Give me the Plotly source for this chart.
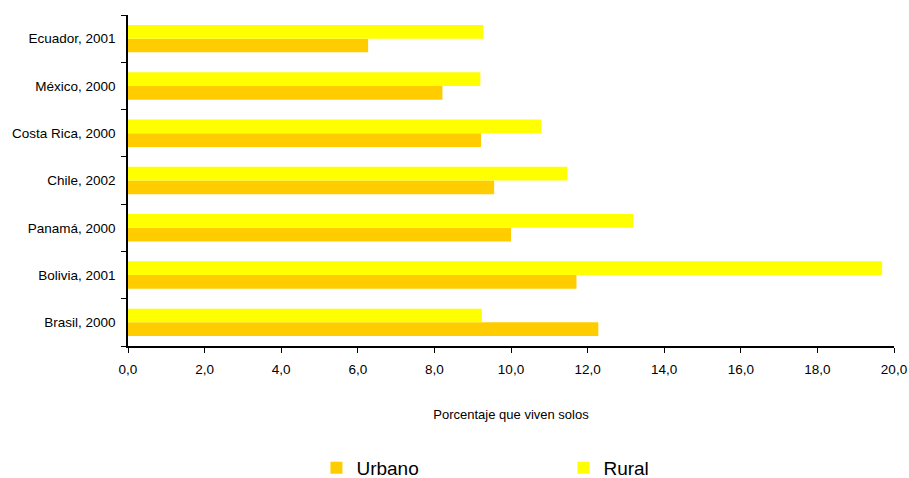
import plotly.graph_objects as go

categories = ["Brasil, 2000", "Bolivia, 2001", "Panamá, 2000", "Chile, 2002",
              "Costa Rica, 2000", "México, 2000", "Ecuador, 2001"]
urbano = [12.28, 11.71, 10.0, 9.56, 9.22, 8.21, 6.27]
rural = [9.24, 19.69, 13.19, 11.47, 10.79, 9.20, 9.28]
x_ticks = [0, 2, 4, 6, 8, 10, 12, 14, 16, 18, 20]

fig = go.Figure()
fig.add_trace(go.Bar(y=categories, x=urbano, name="Urbano", orientation="h",
                     marker=dict(color="#FFCC00", line=dict(width=0))))
fig.add_trace(go.Bar(y=categories, x=rural, name="Rural", orientation="h",
                     marker=dict(color="#FFFF00", line=dict(width=0))))

fig.update_layout(
    width=909, height=478,
    margin=dict(l=128, r=15, t=15, b=132),
    barmode="group", bargap=0.42, bargroupgap=0,
    plot_bgcolor="white", paper_bgcolor="white",
    separators=",.",
    font=dict(family="Liberation Sans, Arial", size=13.5, color="#000000"),
    xaxis=dict(range=[0, 20], tickvals=x_ticks, tickformat=".1f", automargin=False,
               showgrid=False, zeroline=False, showline=True, linecolor="#000",
               linewidth=1.5, ticks="outside", ticklen=5, tickcolor="#000",
               ticklabelstandoff=5,
               title=dict(text="Porcentaje que viven solos", standoff=34,
                          font=dict(size=13))),
    yaxis=dict(showgrid=False, zeroline=False, showline=True, linecolor="#000",
               linewidth=1.5, ticks="outside", ticklen=5, tickcolor="#000",
               tickson="boundaries", ticklabelstandoff=8, automargin=False),
    legend=dict(orientation="h", x=0.246, xanchor="left",
                yref="container", y=0.021, yanchor="middle",
                font=dict(size=19), entrywidth=202, entrywidthmode="pixels",
                itemwidth=30, tracegroupgap=0),
)

fig.write_html("out.html", config={"displayModeBar": False},
               post_script="document.body.style.margin='0';document.body.style.overflow='hidden';")
